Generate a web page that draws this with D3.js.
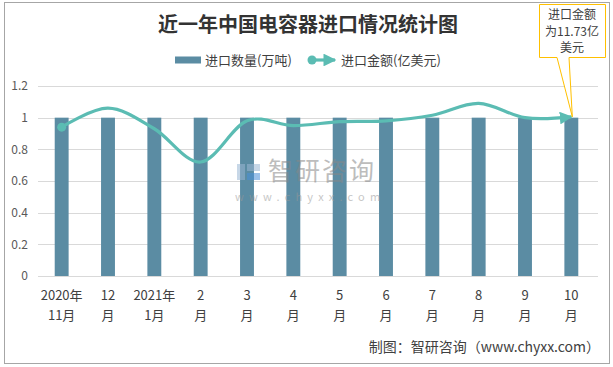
<!DOCTYPE html>
<html><head><meta charset="utf-8">
<script src="https://cdn.jsdelivr.net/npm/d3@7"></script>
<style>body{margin:0;background:#fff}svg{display:block}text{font-family:"Noto Sans CJK SC","Microsoft YaHei",sans-serif}</style>
</head><body>
<svg id="c" width="613" height="367"></svg>
<script>
const categories = [["2020年","11月"],["12","月"],["2021年","1月"],["2","月"],["3","月"],["4","月"],["5","月"],["6","月"],["7","月"],["8","月"],["9","月"],["10","月"]];
const quantity = [1,1,1,1,1,1,1,1,1,1,1,1];
const amount = [0.94,1.06,0.93,0.72,0.98,0.95,0.975,0.98,1.015,1.09,1.0,1.005];
const yTicks = [0,0.2,0.4,0.6,0.8,1,1.2];
const yTickLabels = ["0","0.2","0.4","0.6","0.8","1","1.2"];
const seriesNames = ["进口数量(万吨)","进口金额(亿美元)"];
const title = "近一年中国电容器进口情况统计图";
const calloutLines = ["进口金额","为11.73亿","美元"];
const footer = "制图：智研咨询（www.chyxx.com）";

const svg = d3.select("#c");
const barColor = "#5b8ca3", lineColor = "#5bbcb3";

svg.append("rect").attr("x",4.5).attr("y",2.5).attr("width",605).attr("height",361)
  .attr("fill","#fff").attr("stroke","#a6a6a6").attr("stroke-width",1);

const x = d3.scaleBand().domain(d3.range(categories.length)).range([38.5,594.5]).paddingInner(0.7).paddingOuter(0.35);
const y = d3.scaleLinear().domain([0,1.2]).range([276,86]);

// grid
svg.append("g").selectAll("line").data(yTicks).join("line")
  .attr("x1",38).attr("x2",598).attr("y1",d=>Math.round(y(d))+0.5).attr("y2",d=>Math.round(y(d))+0.5)
  .attr("stroke","#d9d9d9").attr("stroke-width",1);
svg.append("g").selectAll("text").data(yTicks).join("text")
  .attr("x",28).attr("y",d=>y(d)).attr("dy","0.35em").attr("text-anchor","end")
  .attr("font-size",12).attr("fill","#595959").text((d,i)=>yTickLabels[i]);

// bars
svg.append("g").selectAll("rect").data(quantity).join("rect")
  .attr("x",(d,i)=>x(i)).attr("width",x.bandwidth()).attr("y",d=>y(d)).attr("height",d=>y(0)-y(d))
  .attr("fill",barColor);

// watermark
const wm = svg.append("g").attr("opacity",0.55);
wm.append("rect").attr("x",237).attr("y",164).attr("width",8).attr("height",16).attr("fill","#9bb7d4");
wm.append("rect").attr("x",247).attr("y",164).attr("width",13).attr("height",7).attr("fill","#9bb7d4");
wm.append("rect").attr("x",247).attr("y",173).attr("width",13).attr("height",7).attr("fill","#4a90d9");
wm.append("text").attr("x",268).attr("y",180).attr("font-size",25).attr("fill","#888").attr("letter-spacing",2).text("智研咨询");
wm.append("text").attr("x",235).attr("y",201).attr("font-size",11).attr("fill","#999").attr("letter-spacing",5.2).text("www.chyxx.com");

// line
const defs = svg.append("defs");
defs.append("marker").attr("id","arr").attr("viewBox","0 0 10 10").attr("refX",9).attr("refY",5)
  .attr("markerWidth",4).attr("markerHeight",4).attr("orient","auto").attr("markerUnits","strokeWidth")
  .append("path").attr("d","M0,0 L10,5 L0,10 Z").attr("fill",lineColor);
const cx = i => x(i)+x.bandwidth()/2;
const line = d3.line().x((d,i)=>cx(i)).y(d=>y(d)).curve(d3.curveCardinal.tension(0));
svg.append("path").datum(amount).attr("d",line).attr("fill","none").attr("stroke",lineColor)
  .attr("stroke-width",3.2).attr("marker-end","url(#arr)");
svg.append("circle").attr("cx",cx(0)).attr("cy",y(amount[0])).attr("r",4.5).attr("fill",lineColor);

// x labels
const xl = svg.append("g").selectAll("text").data(categories).join("text")
  .attr("text-anchor","middle").attr("font-size",13).attr("fill","#404040");
xl.append("tspan").attr("x",(d,i)=>cx(i)).attr("y",300).text(d=>d[0]);
xl.append("tspan").attr("x",(d,i)=>cx(i)).attr("y",320).text(d=>d[1]);

// title
svg.append("text").attr("x",308).attr("y",32).attr("text-anchor","middle").attr("font-size",20)
  .attr("font-weight","bold").attr("fill","#333").text(title);

// legend
svg.append("rect").attr("x",175).attr("y",56.5).attr("width",26).attr("height",7).attr("fill",barColor);
svg.append("text").attr("x",205).attr("y",60).attr("dy","0.35em").attr("font-size",13).attr("fill","#404040").text(seriesNames[0]);
svg.append("line").attr("x1",312).attr("x2",335).attr("y1",60).attr("y2",60).attr("stroke",lineColor).attr("stroke-width",3.2).attr("marker-end","url(#arr)");
svg.append("circle").attr("cx",312).attr("cy",60).attr("r",4.5).attr("fill",lineColor);
svg.append("text").attr("x",341).attr("y",60).attr("dy","0.35em").attr("font-size",13).attr("fill","#404040").text(seriesNames[1]);

// callout
const tx = cx(amount.length-1)+1, ty = y(amount[amount.length-1]);
svg.append("path").attr("d",`M539.5,4.5 H605.5 V57.5 H569 L${tx},${ty} L557,57.5 H539.5 Z`)
  .attr("fill","#fff").attr("stroke","#ffc000").attr("stroke-width",1);
svg.append("g").selectAll("text").data(calloutLines).join("text")
  .attr("x",572).attr("y",(d,i)=>15+i*16.5).attr("dy","0.35em").attr("text-anchor","middle")
  .attr("font-size",12).attr("fill","#404040").text(d=>d);

// footer
svg.append("text").attr("x",600).attr("y",347).attr("dy","0.35em").attr("text-anchor","end")
  .attr("font-size",14).attr("fill","#404040").text(footer);
</script>
</body></html>
